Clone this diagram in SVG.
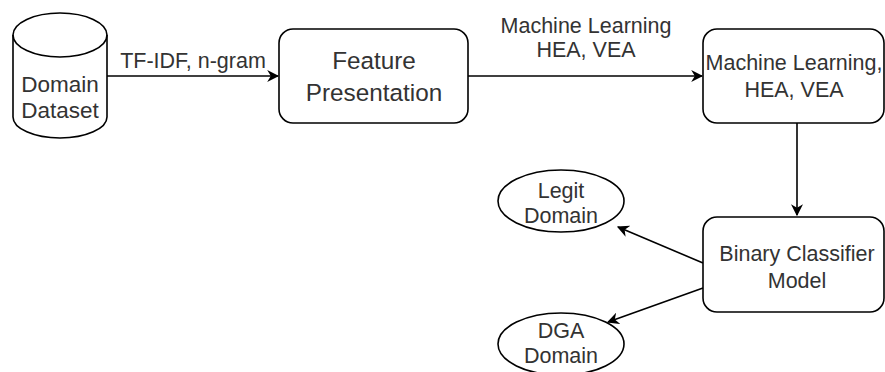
<svg xmlns="http://www.w3.org/2000/svg" width="885" height="372" viewBox="0 0 885 372">
<style>
.s{fill:#fff;stroke:#000;stroke-width:1.6}
.t{font-family:"Liberation Sans",Arial,sans-serif;font-size:21.5px;fill:#333;text-anchor:middle}
.c{fill:none;stroke:#000;stroke-width:1.6}
</style>
<defs>
<marker id="b" viewBox="0 0 10 10" refX="9" refY="5" markerWidth="12" markerHeight="12" markerUnits="userSpaceOnUse" orient="auto"><path d="M0,0 L10,5 L0,10 L3,5 Z" fill="#000"/></marker>
</defs>
<rect width="885" height="372" fill="#fff"/>
<g id="connectors">
<path class="c" d="M107,76 L278,76" marker-end="url(#b)"/>
<path class="c" d="M468,76 L702,76" marker-end="url(#b)"/>
<path class="c" d="M797,123 L797,215" marker-end="url(#b)"/>
<path class="c" d="M703,263 L618,227" marker-end="url(#b)"/>
<path class="c" d="M703,288 L608,322" marker-end="url(#b)"/>
<text class="t" x="193" y="68">TF-IDF, n-gram</text>
<text class="t" x="586" y="33">Machine Learning</text>
<text class="t" x="586" y="57">HEA, VEA</text>
</g>
<g id="dataset">
<path class="s" d="M13,35 A47,22 0 0 1 107,35 L107,117 A47,21 0 0 1 13,117 Z"/>
<path class="c" d="M13,35 A47,22 0 0 0 107,35"/>
<text class="t" x="60" y="92" style="font-size:22.5px">Domain</text>
<text class="t" x="60" y="118" style="font-size:22.5px">Dataset</text>
</g>
<g id="feature">
<rect class="s" x="279" y="29" width="189" height="94" rx="14"/>
<text class="t" x="374" y="69" style="font-size:24.3px">Feature</text>
<text class="t" x="374" y="101" style="font-size:24.3px">Presentation</text>
</g>
<g id="ml">
<rect class="s" x="703" y="29" width="181" height="94" rx="14"/>
<text class="t" x="794" y="70">Machine Learning,</text>
<text class="t" x="794" y="97">HEA, VEA</text>
</g>
<g id="binary">
<rect class="s" x="703" y="217" width="181" height="95" rx="14"/>
<text class="t" x="797" y="261">Binary Classifier</text>
<text class="t" x="797" y="288">Model</text>
</g>
<g id="legit">
<ellipse class="s" cx="561" cy="201" rx="63" ry="31"/>
<text class="t" x="561" y="198">Legit</text>
<text class="t" x="561" y="223">Domain</text>
</g>
<g id="dga">
<ellipse class="s" cx="561" cy="344" rx="63" ry="31"/>
<text class="t" x="561" y="338">DGA</text>
<text class="t" x="561" y="363">Domain</text>
</g>
</svg>
